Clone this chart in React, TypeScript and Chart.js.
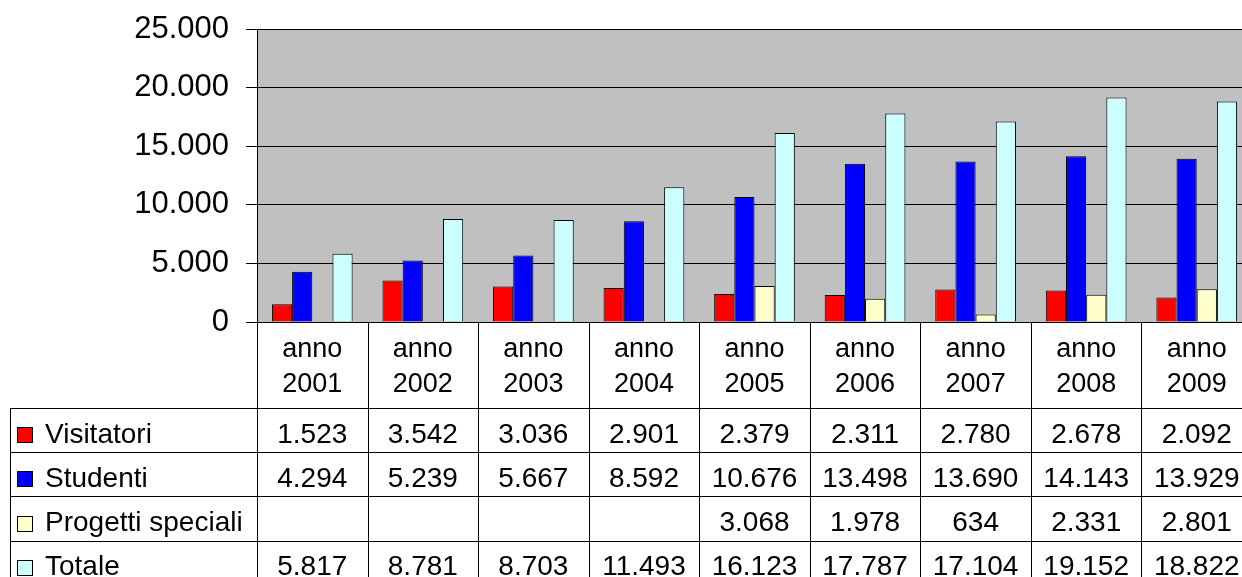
import React, { useEffect, useRef } from 'react';
import { Chart, registerables } from 'chart.js';

Chart.register(...registerables);

// ---- Data ----
const years = ['2001', '2002', '2003', '2004', '2005', '2006', '2007', '2008', '2009'];
const categoryLabels = years.map((y) => ['anno', y]);
const visitatori = [1523, 3542, 3036, 2901, 2379, 2311, 2780, 2678, 2092];
const studenti = [4294, 5239, 5667, 8592, 10676, 13498, 13690, 14143, 13929];
const progettiSpeciali = [null, null, null, null, 3068, 1978, 634, 2331, 2801];
const totale = [5817, 8781, 8703, 11493, 16123, 17787, 17104, 19152, 18822];
const seriesNames = ['Visitatori', 'Studenti', 'Progetti speciali', 'Totale'];
const seriesColors = ['#FF0000', '#0000FF', '#FFFFCC', '#CCFFFF'];
const yMax = 25000;
const yStep = 5000;

// ---- Layout constants ----
const CANVAS_W = 1262;
const CANVAS_H = 577;
const FONT = '"Liberation Sans", Arial, Helvetica, sans-serif';
const HEADER_BOTTOM = 408;
const ROW_H = 44.2;
const LEGEND_LEFT = 10;

const fmt = (v: number | null) =>
  v == null ? '' : String(v).replace(/\B(?=(\d{3})+(?!\d))/g, '.');

const px = (v: number) => Math.round(v) + 0.5;

const bgPlugin = {
  id: 'plotBg',
  beforeDraw(chart: any) {
    const { ctx, chartArea } = chart;
    ctx.save();
    ctx.fillStyle = '#FFFFFF';
    ctx.fillRect(0, 0, chart.width, chart.height);
    ctx.fillStyle = '#C0C0C0';
    ctx.fillRect(chartArea.left, chartArea.top, chartArea.right - chartArea.left, chartArea.bottom - chartArea.top);
    ctx.restore();
  },
};

const tablePlugin = {
  id: 'dataTable',
  afterDraw(chart: any) {
    const { ctx, chartArea } = chart;
    const x = chart.scales.x;
    const n = years.length;
    const catW = (chartArea.right - chartArea.left) / n;
    const H = chart.height;
    const W = chart.width;
    const series = chart.data.datasets.map((d: any) => d.data);

    ctx.save();
    ctx.strokeStyle = '#000000';
    ctx.lineWidth = 1;
    const line = (x1: number, y1: number, x2: number, y2: number) => {
      ctx.beginPath();
      ctx.moveTo(x1, y1);
      ctx.lineTo(x2, y2);
      ctx.stroke();
    };
    // left plot edge continuing down
    line(px(chartArea.left), chartArea.top, px(chartArea.left), H);
    // category boundaries
    for (let i = 0; i < n; i++) {
      const bx = px(x.getPixelForValue(i) + catW / 2);
      line(bx, chartArea.bottom, bx, H);
    }
    // horizontal row lines
    for (let r = 0; r < series.length; r++) {
      const y = px(HEADER_BOTTOM + r * ROW_H);
      line(LEGEND_LEFT, y, W, y);
    }
    // legend column left border
    line(px(LEGEND_LEFT), px(HEADER_BOTTOM), px(LEGEND_LEFT), H);

    ctx.font = `28px ${FONT}`;
    ctx.textBaseline = 'middle';
    ctx.fillStyle = '#000000';
    for (let r = 0; r < series.length; r++) {
      const cy = HEADER_BOTTOM + r * ROW_H + ROW_H / 2 + 5;
      // legend key
      ctx.fillStyle = seriesColors[r];
      ctx.fillRect(17, Math.round(cy - 8), 16, 16);
      ctx.strokeStyle = '#000000';
      ctx.strokeRect(17.5, Math.round(cy - 8) + 0.5, 15, 15);
      ctx.fillStyle = '#000000';
      ctx.textAlign = 'left';
      ctx.fillText(seriesNames[r], 45, cy);
      // values
      ctx.textAlign = 'center';
      for (let i = 0; i < n; i++) {
        const v = series[r][i];
        if (v == null) continue;
        ctx.fillText(fmt(v), x.getPixelForValue(i), cy);
      }
    }
    ctx.restore();
  },
};

export default function App() {
  const canvasRef = useRef<HTMLCanvasElement | null>(null);

  useEffect(() => {
    const canvas = canvasRef.current;
    if (!canvas) return;
    const data = [visitatori, studenti, progettiSpeciali, totale];
    const chart = new Chart(canvas, {
      type: 'bar',
      data: {
        labels: categoryLabels,
        datasets: seriesNames.map((name, i) => ({
          label: name,
          data: data[i] as any,
          backgroundColor: seriesColors[i],
          borderColor: '#000000',
          borderWidth: 1,
          categoryPercentage: 0.73,
          barPercentage: 1.0,
        })),
      },
      options: {
        responsive: false,
        animation: false,
        devicePixelRatio: 1,
        layout: { padding: { top: 29, right: 10, left: 0, bottom: 0 } },
        plugins: {
          legend: { display: false },
          tooltip: { enabled: false },
        },
        scales: {
          x: {
            grid: { display: false, drawTicks: false },
            border: { display: false },
            ticks: {
              autoSkip: false,
              maxRotation: 0,
              minRotation: 0,
              padding: 10,
              color: '#000000',
              font: { family: FONT, size: 27, lineHeight: 35 / 27 },
            },
            afterFit(scale: any) {
              scale.height = CANVAS_H - 322;
            },
          },
          y: {
            min: 0,
            max: yMax,
            ticks: {
              stepSize: yStep,
              padding: 17,
              color: '#000000',
              font: { family: FONT, size: 31, lineHeight: 0.7 },
              callback: (v: any) => fmt(Number(v)),
            },
            grid: {
              color: '#000000',
              lineWidth: 1,
              drawTicks: true,
              tickLength: 11,
              tickColor: '#000000',
            },
            border: { display: true, color: '#555555', width: 1 },
            afterFit(scale: any) {
              scale.width = 257;
            },
          },
        },
      },
      plugins: [bgPlugin, tablePlugin],
    });
    return () => chart.destroy();
  }, []);

  return (
    <div
      style={{
        position: 'fixed',
        left: 0,
        top: 0,
        width: 1242,
        height: 577,
        overflow: 'hidden',
        background: '#FFFFFF',
      }}
    >
      <canvas
        ref={canvasRef}
        width={CANVAS_W}
        height={CANVAS_H}
        style={{ width: CANVAS_W, height: CANVAS_H, display: 'block' }}
      />
    </div>
  );
}
